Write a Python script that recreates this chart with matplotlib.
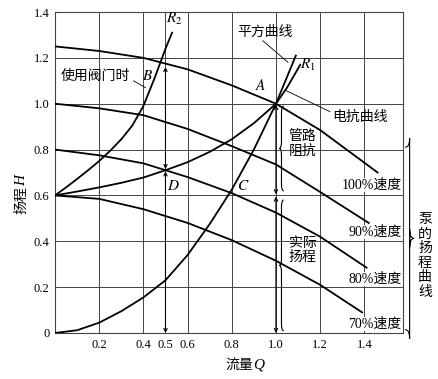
import matplotlib.pyplot as plt
from matplotlib.path import Path
from matplotlib.patches import PathPatch

plt.rcParams['font.family'] = ['Liberation Serif', 'Noto Sans CJK SC']
plt.rcParams['mathtext.fontset'] = 'stix'

# pump head curves at different speeds
q100 = [0, 0.2, 0.4, 0.6, 0.8, 1.0, 1.2, 1.46]
h100 = [1.25, 1.23, 1.20, 1.15, 1.08, 1.0, 0.885, 0.70]
q90 = [0, 0.2, 0.4, 0.6, 0.8, 1.0, 1.2, 1.42]
h90 = [1.0, 0.98, 0.95, 0.89, 0.815, 0.735, 0.615, 0.48]
q80 = [0, 0.2, 0.4, 0.5, 0.6, 0.8, 1.0, 1.2, 1.41]
h80 = [0.80, 0.775, 0.74, 0.71, 0.68, 0.61, 0.525, 0.42, 0.285]
q70 = [0, 0.2, 0.4, 0.6, 0.8, 1.0, 1.2, 1.39]
h70 = [0.60, 0.585, 0.54, 0.48, 0.405, 0.315, 0.21, 0.09]

# system curves
q_sq = [0, 0.1, 0.2, 0.3, 0.4, 0.5, 0.6, 0.7, 0.8, 0.9, 1.0, 1.09]
h_sq = [0, 0.012, 0.045, 0.095, 0.155, 0.23, 0.34, 0.475, 0.625, 0.8, 1.0, 1.21]
q_r1 = [0, 0.1, 0.2, 0.3, 0.4, 0.5, 0.6, 0.7, 0.8, 0.9, 1.0, 1.05, 1.11]
h_r1 = [0.6, 0.617, 0.635, 0.655, 0.678, 0.71, 0.745, 0.79, 0.845, 0.915,
        1.0, 1.07, 1.17]
q_r2 = [0, 0.05, 0.1, 0.15, 0.2, 0.25, 0.3, 0.35, 0.4, 0.45, 0.5, 0.53]
h_r2 = [0.6, 0.635, 0.672, 0.71, 0.75, 0.795, 0.845, 0.905, 0.99, 1.11,
        1.24, 1.31]

xticks = [0.2, 0.4, 0.5, 0.6, 0.8, 1.0, 1.2, 1.4]
yticks = [0, 0.2, 0.4, 0.6, 0.8, 1.0, 1.2, 1.4]
speed_labels = ['100%速度', '90%速度', '80%速度', '70%速度']
speed_label_y = [0.646, 0.441, 0.236, 0.04]


def brace(ax, x, y0, y1, w, h=0.03):
    ym = (y0 + y1) / 2
    verts = [(x + w/2, y0), (x, y0), (x, y0 + h), (x, ym - h),
             (x, ym), (x - w/2, ym), (x, ym), (x, ym + h),
             (x, y1 - h), (x, y1), (x + w/2, y1)]
    codes = [Path.MOVETO, Path.CURVE3, Path.CURVE3, Path.LINETO,
             Path.CURVE3, Path.CURVE3, Path.CURVE3, Path.CURVE3,
             Path.LINETO, Path.CURVE3, Path.CURVE3]
    ax.add_patch(PathPatch(Path(verts, codes), fill=False, lw=0.8,
                           color='black', clip_on=False))


def fmt(t):
    return '0' if t == 0 else '%.1f' % t


fig = plt.figure(figsize=(4.39, 3.79), dpi=100)
ax = fig.add_axes([0.1253, 0.1214, 0.7927, 0.8469])

for q, h in [(q100, h100), (q90, h90), (q80, h80), (q70, h70),
             (q_sq, h_sq), (q_r1, h_r1), (q_r2, h_r2)]:
    ax.plot(q, h, color='black', lw=1.3, zorder=3)

ax.set_xlim(0, 1.575)
ax.set_ylim(0, 1.4)
ax.set_xticks(xticks)
ax.set_xticklabels([fmt(t) for t in xticks])
ax.set_yticks(yticks)
ax.set_yticklabels([fmt(t) for t in yticks])
ax.tick_params(length=0, labelsize=9, pad=4)
ax.grid(True, color='#444444', lw=0.7)
for s in ax.spines.values():
    s.set_color('#444444')
    s.set_linewidth(0.8)

for lab, y in zip(speed_labels, speed_label_y):
    ax.text(1.568, y, lab, ha='right', va='center', fontsize=10,
            bbox=dict(facecolor='white', edgecolor='none', pad=0.5), zorder=4)

# arrows
arw = dict(arrowstyle='<->', lw=0.8, color='black', mutation_scale=6,
           shrinkA=0, shrinkB=0)
ax.annotate('', xy=(0.5, 1.16), xytext=(0.5, 0.715), arrowprops=arw)
ax.annotate('', xy=(0.5, 0.0), xytext=(0.5, 0.705), arrowprops=arw)
ax.annotate('', xy=(1.0, 0.995), xytext=(1.0, 0.605), arrowprops=arw)
ax.annotate('', xy=(1.0, 0.0), xytext=(1.0, 0.595), arrowprops=arw)

brace(ax, 1.025, 0.62, 0.99, 0.02, h=0.03)
brace(ax, 1.025, 0.01, 0.58, 0.02, h=0.03)
brace(ax, 1.605, 0.81, 0.015, -0.04, h=0.04)

# point labels
for txt, x, y in [('$R_2$', 0.54, 1.37), ('$R_1$', 1.145, 1.17),
                  ('$A$', 0.93, 1.08), ('$B$', 0.42, 1.12),
                  ('$C$', 0.85, 0.64), ('$D$', 0.535, 0.64)]:
    ax.text(x, y, txt, ha='center', va='center', fontsize=11)

lead = dict(arrowstyle='-', lw=0.6, color='black', shrinkA=0, shrinkB=0)
ax.text(0.185, 1.12, '使用阀门时', ha='center', va='center', fontsize=10)
ax.annotate('', xy=(0.41, 1.07), xytext=(0.355, 1.1), arrowprops=lead)
ax.text(0.95, 1.31, '平方曲线', ha='center', va='center', fontsize=10)
ax.annotate('', xy=(1.055, 1.18), xytext=(0.94, 1.275), arrowprops=lead)
ax.text(1.38, 0.94, '电抗曲线', ha='center', va='center', fontsize=10)
ax.annotate('', xy=(1.04, 1.06), xytext=(1.245, 0.965), arrowprops=lead)
ax.text(1.12, 0.825, '管路\n阻抗', ha='center', va='center', fontsize=10,
        linespacing=1.1)
ax.text(1.12, 0.36, '实际\n扬程', ha='center', va='center', fontsize=10,
        linespacing=1.1)

# axis labels: Chinese text plus italic letter
fig.text(253 / 439, 1 - 365 / 379, '流量', ha='right', va='center', fontsize=10)
fig.text(253 / 439, 1 - 365 / 379, 'Q', ha='left', va='center', fontsize=11,
         style='italic')
fig.text(22 / 439, 1 - 186 / 379, '扬程', ha='center', va='top', fontsize=10,
         rotation=90)
fig.text(22 / 439, 1 - 186 / 379, 'H', ha='center', va='bottom', fontsize=11,
         rotation=90, style='italic')
fig.text(0.968, 0.325, '\n'.join('泵的扬程曲线'), ha='center', va='center',
         fontsize=10, linespacing=1.15)

fig.savefig('out.png', dpi=100)
